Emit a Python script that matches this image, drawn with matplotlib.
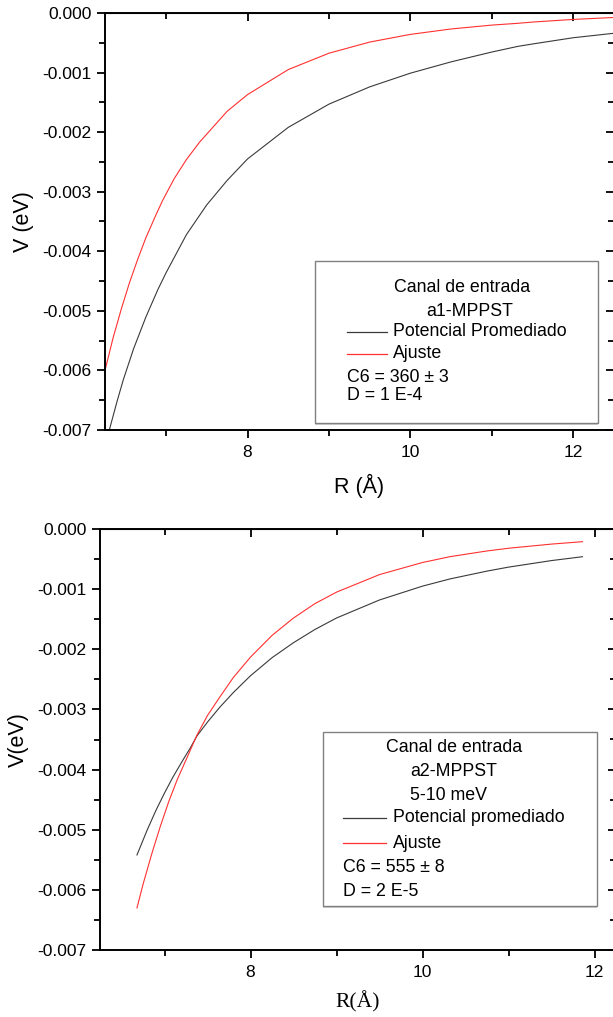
import matplotlib.pyplot as plt
from matplotlib.patches import Rectangle

plt.rcParams['font.family'] = ['Liberation Sans', 'DejaVu Sans']

# panel a1 (top) (V in eV)
r_top_prom = [6.303, 6.4, 6.474, 6.6, 6.75, 6.9, 7.0, 7.25, 7.5, 7.75, 8.0, 8.5, 9.0, 9.5,
              10.0, 10.5, 11.0, 11.32, 11.5, 12.0, 12.5]
v_top_prom = [-0.00700, -0.00651, -0.00616, -0.00564, -0.00511, -0.00464, -0.00436, -0.00372,
              -0.00322, -0.00281, -0.00245, -0.00192, -0.00153, -0.00124, -0.00101, -0.00082,
              -0.000655, -0.000560, -0.000520, -0.000415, -0.000340]
r_top_fit = [6.25, 6.35, 6.45, 6.55, 6.65, 6.75, 6.875, 6.96, 7.1, 7.25, 7.41, 7.75, 8.0, 8.5,
             9.0, 9.5, 10.0, 10.5, 11.0, 11.32, 11.5, 12.0, 12.5]
v_top_fit = [-0.00600, -0.00545, -0.00497, -0.00453, -0.00414, -0.00378, -0.00339, -0.00314,
             -0.00278, -0.00246, -0.00217, -0.00165, -0.00137, -0.00095, -0.000675, -0.000488,
             -0.000359, -0.000268, -0.000203, -0.000173, -0.000152, -0.000108, -0.000075]

# panel a2 (bottom)
r_bot_prom = [6.68, 6.8, 6.9, 7.0, 7.1, 7.215, 7.3, 7.378, 7.5, 7.645, 7.8, 8.0, 8.25, 8.5,
              8.75, 9.0, 9.5, 10.0, 10.32, 10.75, 11.0, 11.5, 11.86]
v_bot_prom = [-0.00542, -0.00500, -0.00468, -0.00439, -0.00412, -0.00384, -0.00364, -0.00344,
              -0.00321, -0.00296, -0.00272, -0.00244, -0.00214, -0.00189, -0.00167, -0.00148,
              -0.00118, -0.00095, -0.00083, -0.00070, -0.000634, -0.000525, -0.000461]
r_bot_fit = [6.68, 6.75, 6.85, 6.95, 7.05, 7.15, 7.25, 7.378, 7.5, 7.645, 7.8, 8.0, 8.25, 8.5,
             8.75, 9.0, 9.5, 10.0, 10.32, 10.75, 11.0, 11.5, 11.86]
v_bot_fit = [-0.00630, -0.00591, -0.00541, -0.00495, -0.00453, -0.00416, -0.00384, -0.003425,
             -0.00310, -0.00279, -0.00247, -0.00213, -0.00177, -0.00148, -0.00124, -0.00105,
             -0.000758, -0.000557, -0.00046, -0.000365, -0.00032, -0.000251, -0.000211]

legend_top = ['Canal de entrada', 'a1-MPPST']
legend_bot = ['Canal de entrada', 'a2-MPPST', '5-10 meV']

W, H = 613, 1017
FS = 12.8
fig = plt.figure(figsize=(W / 100, H / 100), dpi=100)


def make_axes(left, right, top, bottom, xmax):
	ax = fig.add_axes([left / W, 1 - bottom / H, (right - left) / W, (bottom - top) / H])
	ax.set_xlim(6.25, xmax)
	ax.set_ylim(-0.007, 0.0)
	ax.set_xticks([8, 10, 12])
	ax.set_xticks([7, 9, 11], minor=True)
	ax.set_yticks([-0.007 + 0.001 * i for i in range(8)])
	ax.set_yticklabels(['-0.007', '-0.006', '-0.005', '-0.004', '-0.003', '-0.002', '-0.001', '0.000'])
	ax.set_yticks([-0.0065 + 0.001 * i for i in range(7)], minor=True)
	ax.tick_params(which='both', direction='out', labelsize=12.5, width=1.3, top=False, right=False)
	ax.tick_params(which='major', length=6)
	ax.tick_params(which='minor', length=4)
	ax.tick_params(axis='x', pad=5)
	for s in ax.spines.values():
		s.set_linewidth(1.4)
	# inward ticks on top and right, no labels
	ax2 = ax.secondary_xaxis('top')
	ax2.set_xticks([8, 10, 12])
	ax2.set_xticks([7, 9, 11], minor=True)
	ax2.tick_params(which='both', direction='in', labeltop=False, width=1.3)
	ax2.tick_params(which='major', length=6)
	ax2.tick_params(which='minor', length=4)
	ax3 = ax.secondary_yaxis('right')
	ax3.set_yticks([-0.007 + 0.001 * i for i in range(8)])
	ax3.set_yticks([-0.0065 + 0.001 * i for i in range(7)], minor=True)
	ax3.tick_params(which='both', direction='in', labelright=False, width=1.3)
	ax3.tick_params(which='major', length=6)
	ax3.tick_params(which='minor', length=4)
	return ax


def draw_box(box, title_lines, title_y, title_x, entries, entry_y, params, param_y, handle_x, text_x):
	# box and text placed in figure pixels
	x0, y0, x1, y1 = box
	fig.patches.append(Rectangle((x0 / W, 1 - (y1 + 2) / H), (x1 - x0) / W, (y1 - y0) / H,
		transform=fig.transFigure, facecolor='#d0d0d0', edgecolor='none', zorder=5))
	fig.patches.append(Rectangle((x0 / W, 1 - y1 / H), (x1 - x0) / W, (y1 - y0) / H,
		transform=fig.transFigure, facecolor='white', edgecolor='#808080', lw=1.0, zorder=6))
	for t, y, x in zip(title_lines, title_y, title_x):
		fig.text(x / W, 1 - y / H, t, ha='center', va='center', fontsize=FS, zorder=7)
	for (lab, col), y in zip(entries, entry_y):
		fig.add_artist(plt.Line2D([handle_x[0] / W, handle_x[1] / W], [1 - y / H, 1 - y / H],
			color=col, lw=0.9, zorder=7))
		fig.text(text_x / W, 1 - y / H, lab, ha='left', va='center', fontsize=FS, zorder=7)
	for t, y in zip(params, param_y):
		fig.text(handle_x[0] / W, 1 - y / H, t, ha='left', va='center', fontsize=FS, zorder=7)


ax1 = make_axes(105, 614, 13, 430, 12.5)
ax1.plot(r_top_prom, v_top_prom, color='#3a3a3a', lw=0.8)
ax1.plot(r_top_fit, v_top_fit, color='#ff3030', lw=0.8)
ax1.set_xlabel('R (Å)', fontsize=15.5, labelpad=10)
ax1.set_ylabel('V (eV)', fontsize=15.5, labelpad=6)
draw_box((315, 261, 598, 423), legend_top, [288, 311], [462, 470],
	[('Potencial Promediado', '#3a3a3a'), ('Ajuste', '#ff3030')], [332, 354],
	['C6 = 360 ± 3', 'D = 1 E-4'], [378, 395], (347, 387), 393)

ax2 = make_axes(100, 616, 529, 950, 12.25)
ax2.plot(r_bot_prom, v_bot_prom, color='#3a3a3a', lw=0.8)
ax2.plot(r_bot_fit, v_bot_fit, color='#ff3030', lw=0.8)
ax2.set_xlabel('R(Å)', fontsize=15.5, labelpad=8, family=['Liberation Serif'])
ax2.set_ylabel('V(eV)', fontsize=15.5, labelpad=6)
draw_box((323, 732, 597, 906), legend_bot, [748, 771, 795], [454, 454, 448],
	[('Potencial promediado', '#3a3a3a'), ('Ajuste', '#ff3030')], [818, 843],
	['C6 = 555 ± 8', 'D = 2 E-5'], [867, 892], (343, 386), 393)

fig.savefig('out.png', dpi=100)
